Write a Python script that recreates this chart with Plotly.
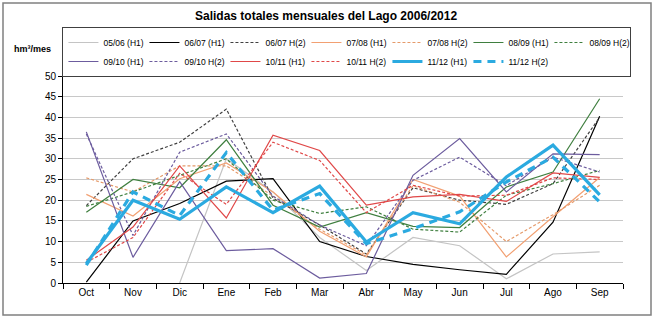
import plotly.graph_objects as go

months = ["Oct", "Nov", "Dic", "Ene", "Feb", "Mar", "Abr", "May", "Jun", "Jul", "Ago", "Sep"]

s0506_h1 = [None, None, 0, 30, 22, 11, 3, 11, 9, 1, 7, 7.5]
s0607_h1 = [0.2, 15, 19.2, 24.6, 25.2, 10, 6.4, 4.5, 3.2, 2.1, 14.7, 40.3]
s0607_h2 = [18.7, 30, 34, 42, 20.5, 14, 7, 23, 20, 19, 24, 40]
s0708_h1 = [21.4, 16.2, 25.2, 29, 22, 12.5, 6.3, 25, 21, 6.3, 16, 25.5]
s0708_h2 = [25.4, 22, 28.3, 28.3, 21, 13, 6.8, 23.5, 19.5, 10, 16.5, 23.6]
s0809_h1 = [17.1, 25, 23, 34.6, 18.8, 13.5, 17, 13.7, 13.4, 23.2, 26.8, 44.5]
s0809_h2 = [18.5, 22, 26, 30, 20, 16.8, 18.4, 13, 12.3, 21.2, 24, 27.2]
s0910_h1 = [36.5, 6.2, 24.5, 7.8, 8.3, 1.2, 2.3, 26, 34.9, 22, 31.2, 31]
s0910_h2 = [36, 11.5, 31.6, 36, 21, 14, 9, 24.8, 30.4, 23.5, 30.4, 26.8]
s1011_h1 = [5.5, 13.5, 28.3, 15.7, 35.7, 32, 18.8, 20.8, 21.4, 19.7, 26.6, 25.5]
s1011_h2 = [5, 11, 26.5, 19, 34, 29.6, 17, 23.6, 21, 21.2, 25.4, 25]
s1112_h1 = [4.7, 20, 15.4, 23.2, 17, 23.4, 9.9, 17, 14.3, 25.6, 33.3, 21.3]
s1112_h2 = [4.3, 22, 16.3, 31.5, 17.6, 21.6, 9.5, 13.1, 17.2, 24.4, 30.4, 19.6]

series = [
    ("05/06 (H1)", s0506_h1, "#C4C4C4", "solid", 1.2),
    ("06/07 (H1)", s0607_h1, "#000000", "solid", 1.2),
    ("06/07 H(2)", s0607_h2, "#404040", "3px,2px", 1.2),
    ("07/08 (H1)", s0708_h1, "#F2A072", "solid", 1.2),
    ("07/08 H(2)", s0708_h2, "#E59A6A", "3px,2px", 1.2),
    ("08/09 (H1)", s0809_h1, "#3F7F3F", "solid", 1.2),
    ("08/09 H(2)", s0809_h2, "#3F7F3F", "3px,2px", 1.2),
    ("09/10 (H1)", s0910_h1, "#6C5C9E", "solid", 1.2),
    ("09/10 H(2)", s0910_h2, "#6C5C9E", "3px,2px", 1.2),
    ("10/11 (H1)", s1011_h1, "#E04848", "solid", 1.2),
    ("10/11 H(2)", s1011_h2, "#E04848", "3px,2px", 1.2),
    ("11/12 (H1)", s1112_h1, "#2BAAE0", "solid", 3.2),
    ("11/12 H(2)", s1112_h2, "#2BAAE0", "8px,6px", 3.2),
]

fig = go.Figure()
for name, vals, color, dash, w in series:
    fig.add_trace(go.Scatter(
        x=months, y=vals, name=name, mode="lines",
        line=dict(color=color, dash=dash, width=w),
        connectgaps=False,
    ))

fig.update_layout(
    width=656, height=322,
    margin=dict(l=63, r=33, t=76, b=39),
    paper_bgcolor="white", plot_bgcolor="white",
    font=dict(family="Liberation Sans, Arial", size=10, color="#000000"),
    title=dict(text="<b>Salidas totales mensuales del Lago 2006/2012</b>",
               x=0.497, xanchor="center", y=0.95, yanchor="middle",
               font=dict(size=12)),
    showlegend=True,
    legend=dict(
        orientation="h", x=-0.001, xanchor="left", y=1 + (76 - 27) / 207, yanchor="top",
        entrywidth=36, entrywidthmode="pixels",
        itemwidth=30, bordercolor="#404040", borderwidth=1,
        bgcolor="white", font=dict(size=8.5), tracegroupgap=0,
        traceorder="normal",
    ),
    xaxis=dict(
        type="category", range=[-0.5, 11.5],
        showline=True, linecolor="#000000", linewidth=1,
        ticks="outside", tickson="boundaries", ticklen=5, tickcolor="#000000",
        showgrid=False, tickfont=dict(size=10),
    ),
    yaxis=dict(
        range=[0, 50], dtick=5, tick0=0,
        showline=True, linecolor="#000000", linewidth=1,
        ticks="outside", ticklen=4, tickcolor="#000000",
        showgrid=True, gridcolor="#C8C8C8", gridwidth=1,
        zeroline=False, tickfont=dict(size=10),
    ),
    annotations=[dict(
        text="<b>hm³/mes</b>", xref="paper", yref="paper",
        x=(12 - 63) / 560, xanchor="left", y=1 + (76 - 49) / 207, yanchor="middle",
        showarrow=False, font=dict(size=9),
    )],
    shapes=[dict(
        type="rect", xref="paper", yref="paper",
        x0=(3 - 63) / 560, x1=(651 - 63) / 560,
        y0=1 - (315 - 76) / 207, y1=1 + (76 - 3) / 207,
        line=dict(color="#808080", width=1.5), fillcolor="rgba(0,0,0,0)",
        layer="below",
    )],
)

fig.write_html("out.html")
